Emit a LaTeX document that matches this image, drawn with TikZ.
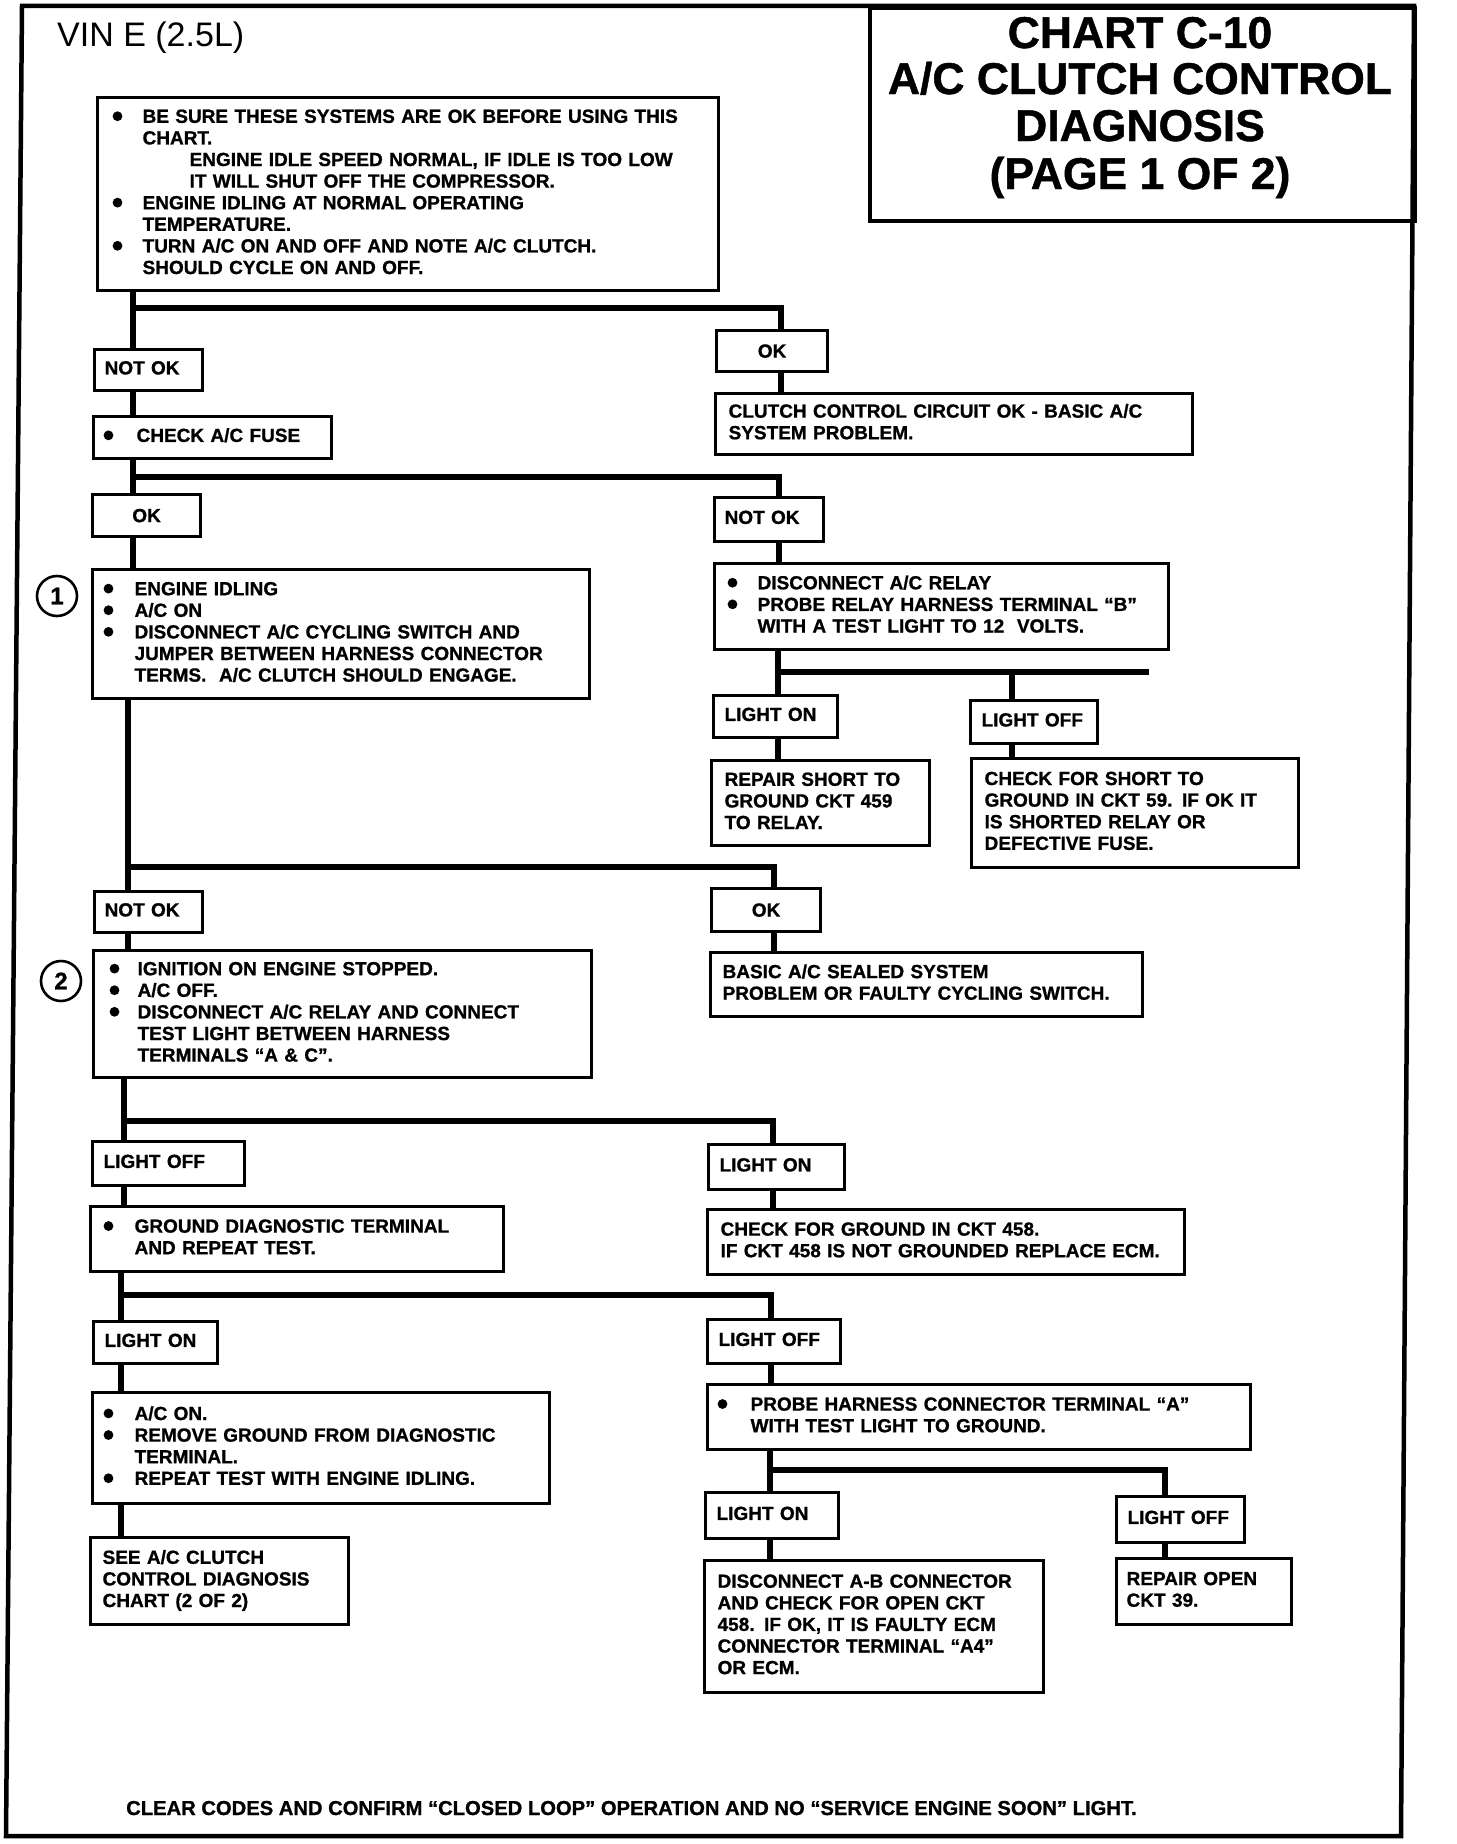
\documentclass[tikz,border=0pt]{standalone}
\usepackage{fontspec}
\setmainfont{Liberation Sans}
\newfontfamily\lsans{Liberation Sans}[BoldFeatures={FakeBold=1.0}]
\newfontfamily\lsansreg{Liberation Sans}
\newcommand\bul[1]{\makebox[#1pt][l]{\tikz[baseline=-6.6pt]\fill (0,0) circle (4.9pt);}}
\newcommand\ind[1]{\hspace*{#1pt}}
\newcommand\bodyfont{\lsans\bfseries\fontsize{19}{21.6}\selectfont}
\tikzset{
  flowbox/.style={draw, line width=3.2pt, anchor=north west, inner sep=0pt, align=left, font=\bodyfont},
  okbox/.style={draw, line width=3.2pt, anchor=north west, inner sep=0pt, align=center, font=\bodyfont},
  conn/.style={line width=6pt, line join=miter},
  frameline/.style={line width=4.5pt, line join=miter},
  numcirc/.style={circle, draw, line width=2.6pt, minimum size=40pt, inner sep=0pt, font=\lsans\bfseries\fontsize{24}{24}\selectfont},
  titlef/.style={font=\lsans\bfseries\fontsize{44.5}{47}\selectfont, anchor=base},
}
\newcommand\flowbx[7]{%
  \pgfmathsetmacro\mybw{#4-#2}\pgfmathsetmacro\mybh{#5-#3}\pgfmathsetmacro\mytw{#4-#2-2*#6}%
  \node[flowbox, minimum width=\mybw pt, minimum height=\mybh pt, text width=\mytw pt] (#1) at (#2,#3) {\begin{tabular}{@{}l@{}}#7\end{tabular}};}
\newcommand\okbx[6]{%
  \pgfmathsetmacro\mybw{#4-#2}\pgfmathsetmacro\mybh{#5-#3}%
  \node[okbox, minimum width=\mybw pt, minimum height=\mybh pt] (#1) at (#2,#3) {#6};}
\begin{document}
\begin{tikzpicture}[x=1pt, y=-1pt]
\useasboundingbox (0,0) rectangle (1456,1844);
% frame and title
\draw[frameline] (22,6) -- (1414,6) -- (1401,1836) -- (6,1836) -- cycle;
\node[draw, line width=4pt, anchor=north west, inner sep=0pt, minimum width=545pt, minimum height=213pt] (titlebox) at (868,6) {};
\node[titlef] (t1) at (1140,48) {CHART C-10};
\node[titlef] (t2) at (1140,94) {A/C CLUTCH CONTROL};
\node[titlef] (t3) at (1140,141) {DIAGNOSIS};
\node[titlef] (t4) at (1140,189) {(PAGE 1 OF 2)};
\node[font=\lsansreg\fontsize{34}{36}\selectfont, anchor=base west, inner sep=0pt] (vin) at (57,47) {VIN E (2.5L)};
% boxes
\flowbx{intro}{96}{96}{717}{289}{15}{%
\bul{30}BE SURE THESE SYSTEMS ARE OK BEFORE USING THIS\\
\ind{30}CHART.\\
\ind{77}ENGINE IDLE SPEED NORMAL, IF IDLE IS TOO LOW\\
\ind{77}IT WILL SHUT OFF THE COMPRESSOR.\\
\bul{30}ENGINE IDLING AT NORMAL OPERATING\\
\ind{30}TEMPERATURE.\\
\bul{30}TURN A/C ON AND OFF AND NOTE A/C CLUTCH.\\
\ind{30}SHOULD CYCLE ON AND OFF.}
\flowbx{notok1}{93}{348}{201}{389}{10}{NOT OK}
\flowbx{fuse}{92}{415}{330}{457}{10}{\bul{33}CHECK A/C FUSE}
\okbx{ok1r}{715}{329}{826}{370}{OK}
\flowbx{clutchok}{714}{392}{1191}{453}{13}{CLUTCH CONTROL CIRCUIT OK - BASIC A/C\\ SYSTEM PROBLEM.}
\okbx{ok2l}{91}{493}{199}{535}{OK}
\flowbx{step1}{91}{568}{588}{697}{11}{%
\bul{31}ENGINE IDLING\\
\bul{31}A/C ON\\
\bul{31}DISCONNECT A/C CYCLING SWITCH AND\\
\ind{31}JUMPER BETWEEN HARNESS CONNECTOR\\
\ind{31}TERMS.\ \ A/C CLUTCH SHOULD ENGAGE.}
\node[numcirc] (c1) at (57,596) {1};
\flowbx{notok2r}{713}{496}{822}{540}{10}{NOT OK}
\flowbx{relay}{713}{562}{1167}{648}{13}{%
\bul{30}DISCONNECT A/C RELAY\\
\bul{30}PROBE RELAY HARNESS TERMINAL “B”\\
\ind{30}WITH A TEST LIGHT TO 12\ \ VOLTS.}
\flowbx{lighton1}{712}{694}{836}{736}{11}{LIGHT ON}
\flowbx{lightoff1}{969}{699}{1096}{742}{11}{LIGHT OFF}
\flowbx{repairshort}{710}{759}{928}{844}{13}{REPAIR SHORT TO\\ GROUND CKT 459\\ TO RELAY.}
\flowbx{checkshort}{970}{757}{1297}{866}{13}{CHECK FOR SHORT TO\\ GROUND IN CKT 59. IF OK IT\\ IS SHORTED RELAY OR\\ DEFECTIVE FUSE.}
\flowbx{notok3}{93}{890}{201}{931}{10}{NOT OK}
\okbx{ok3r}{710}{887}{819}{930}{OK}
\flowbx{basic}{709}{951}{1141}{1015}{12}{BASIC A/C SEALED SYSTEM\\ PROBLEM OR FAULTY CYCLING SWITCH.}
\flowbx{step2}{92}{949}{590}{1076}{16}{%
\bul{28}IGNITION ON ENGINE STOPPED.\\
\bul{28}A/C OFF.\\
\bul{28}DISCONNECT A/C RELAY AND CONNECT\\
\ind{28}TEST LIGHT BETWEEN HARNESS\\
\ind{28}TERMINALS “A \& C”.}
\node[numcirc] (c2) at (61,981) {2};
\flowbx{lightoff2}{91}{1140}{243}{1184}{11}{LIGHT OFF}
\flowbx{lighton2r}{707}{1143}{843}{1188}{11}{LIGHT ON}
\flowbx{grounddiag}{89}{1205}{502}{1270}{13}{%
\bul{31}GROUND DIAGNOSTIC TERMINAL\\
\ind{31}AND REPEAT TEST.}
\flowbx{checkground}{706}{1208}{1183}{1273}{13}{CHECK FOR GROUND IN CKT 458.\\ IF CKT 458 IS NOT GROUNDED REPLACE ECM.}
\flowbx{lighton3}{92}{1320}{216}{1362}{11}{LIGHT ON}
\flowbx{lightoff3r}{706}{1318}{839}{1362}{11}{LIGHT OFF}
\flowbx{acon}{91}{1391}{548}{1502}{11}{%
\bul{31}A/C ON.\\
\bul{31}REMOVE GROUND FROM DIAGNOSTIC\\
\ind{31}TERMINAL.\\
\bul{31}REPEAT TEST WITH ENGINE IDLING.}
\flowbx{seeac}{89}{1536}{347}{1623}{12}{SEE A/C CLUTCH\\ CONTROL DIAGNOSIS\\ CHART (2 OF 2)}
\flowbx{probe}{706}{1383}{1249}{1448}{10}{%
\bul{33}PROBE HARNESS CONNECTOR TERMINAL “A”\\
\ind{33}WITH TEST LIGHT TO GROUND.}
\flowbx{lighton4}{704}{1491}{837}{1537}{11}{LIGHT ON}
\flowbx{lightoff4}{1115}{1495}{1243}{1541}{11}{LIGHT OFF}
\flowbx{disconnectab}{703}{1559}{1042}{1691}{13}{DISCONNECT A-B CONNECTOR\\ AND CHECK FOR OPEN CKT\\ 458. IF OK, IT IS FAULTY ECM\\ CONNECTOR TERMINAL “A4”\\ OR ECM.}
\flowbx{repairopen}{1115}{1557}{1290}{1623}{10}{REPAIR OPEN\\ CKT 39.}
\node[font=\lsans\bfseries\fontsize{20.2}{22}\selectfont, anchor=base west, inner sep=0pt] (footer) at (126,1815) {CLEAR CODES AND CONFIRM “CLOSED LOOP” OPERATION AND NO “SERVICE ENGINE SOON” LIGHT.};
% junctions
\coordinate (j1l) at (133,308); \coordinate (j1r) at (781,308);
\coordinate (j2l) at (133,477); \coordinate (j2r) at (779,477);
\coordinate (j3l) at (778,672); \coordinate (j3m) at (1012,672); \coordinate (j3e) at (1149,672);
\coordinate (j4l) at (128,867); \coordinate (j4r) at (774,867);
\coordinate (j5l) at (124,1121); \coordinate (j5r) at (773,1121);
\coordinate (j6l) at (121,1295); \coordinate (j6r) at (771,1295);
\coordinate (j7l) at (770,1470); \coordinate (j7r) at (1165,1470);
% connectors
\draw[conn] (intro.south -| j1l) -- (notok1.north -| j1l);
\draw[conn] (j1l) -- (j1r) -- (ok1r.north -| j1r);
\draw[conn] (ok1r.south -| j1r) -- (clutchok.north -| j1r);
\draw[conn] (notok1.south -| j1l) -- (fuse.north -| j1l);
\draw[conn] (fuse.south -| j2l) -- (ok2l.north -| j2l);
\draw[conn] (j2l) -- (j2r) -- (notok2r.north -| j2r);
\draw[conn] (ok2l.south -| j2l) -- (step1.north -| j2l);
\draw[conn] (notok2r.south -| j2r) -- (relay.north -| j2r);
\draw[conn] (relay.south -| j3l) -- (lighton1.north -| j3l);
\draw[conn] (j3l) -- (j3e);
\draw[conn] (j3m) -- (lightoff1.north -| j3m);
\draw[conn] (lighton1.south -| j3l) -- (repairshort.north -| j3l);
\draw[conn] (lightoff1.south -| j3m) -- (checkshort.north -| j3m);
\draw[conn] (step1.south -| j4l) -- (notok3.north -| j4l);
\draw[conn] (j4l) -- (j4r) -- (ok3r.north -| j4r);
\draw[conn] (ok3r.south -| j4r) -- (basic.north -| j4r);
\draw[conn] (notok3.south -| j4l) -- (step2.north -| j4l);
\draw[conn] (step2.south -| j5l) -- (lightoff2.north -| j5l);
\draw[conn] (j5l) -- (j5r) -- (lighton2r.north -| j5r);
\draw[conn] (lighton2r.south -| j5r) -- (checkground.north -| j5r);
\draw[conn] (lightoff2.south -| j5l) -- (grounddiag.north -| j5l);
\draw[conn] (grounddiag.south -| j6l) -- (lighton3.north -| j6l);
\draw[conn] (j6l) -- (j6r) -- (lightoff3r.north -| j6r);
\draw[conn] (lightoff3r.south -| j6r) -- (probe.north -| j6r);
\draw[conn] (lighton3.south -| j6l) -- (acon.north -| j6l);
\draw[conn] (acon.south -| j6l) -- (seeac.north -| j6l);
\draw[conn] (probe.south -| j7l) -- (lighton4.north -| j7l);
\draw[conn] (j7l) -- (j7r) -- (lightoff4.north -| j7r);
\draw[conn] (lighton4.south -| j7l) -- (disconnectab.north -| j7l);
\draw[conn] (lightoff4.south -| j7r) -- (repairopen.north -| j7r);
\end{tikzpicture}
\end{document}
